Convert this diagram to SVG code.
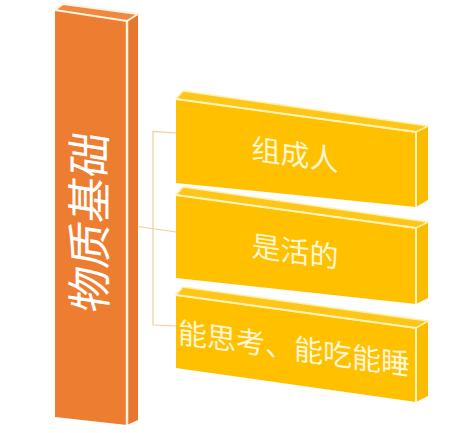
<svg xmlns="http://www.w3.org/2000/svg" width="451" height="433" viewBox="0 0 451 433">
  <style>
    .ofront { fill: #ED7D31; }
    .oside { fill: #E6772C; }
    .otop { fill: #EF8840; stroke: #FFF3E0; stroke-width: 2; stroke-linejoin: round; }
    .yfront { fill: #FFC000; }
    .yside { fill: #F9BC00; }
    .ytop { fill: #FFC61A; stroke: #FFF0A8; stroke-width: 1.5; stroke-linejoin: round; }
    .edge { stroke: #FFF3B8; stroke-width: 2; fill: none; }
    .oedge { stroke: #FFF3E0; stroke-width: 2.5; fill: none; }
    .conn { stroke: #EFCF98; stroke-width: 1.2; fill: none; }
    .lbl { font-family: "Noto Sans CJK SC", "Noto Sans", sans-serif; font-size: 29px; fill: #FFF6D6; text-anchor: middle; }
    .title { font-family: "Noto Sans CJK SC", "Noto Sans", sans-serif; font-size: 45px; fill: #FFFFFF; text-anchor: middle; }
  </style>
  <rect width="451" height="433" fill="#FFFFFF"/>

  <g id="connectors">
    <polyline class="conn" points="176,133 153,131.5 153,325 176,326"/>
    <line class="conn" x1="134" y1="226" x2="176" y2="232"/>
  </g>

  <g id="node-base">
    <polygon class="ofront" points="55,10 127,21 127,425 55,417"/>
    <polygon class="oside" points="127,21 138,14 138,420 127,425"/>
    <polygon class="otop" points="55,10 63,4 138,14 127,21"/>
    <line class="oedge" x1="127" y1="21" x2="127" y2="425"/>
    <text class="title" transform="translate(90,222) skewY(9) rotate(-90)" x="0" y="16">物质基础</text>
  </g>

  <g id="node-1">
    <polygon class="yfront" points="176,99 416,132 416,207 176,183"/>
    <polygon class="yside" points="416,132 428,126 428,200 416,207"/>
    <polygon class="ytop" points="176,99 183,91 428,126 416,132"/>
    <line class="edge" x1="176" y1="99" x2="416" y2="132"/>
    <line class="edge" x1="416" y1="132" x2="416" y2="207"/>
    <text class="lbl" transform="translate(295,154) skewY(8)" x="0" y="11">组成人</text>
  </g>

  <g id="node-2">
    <polygon class="yfront" points="176,195 416,228 416,304 176,278"/>
    <polygon class="yside" points="416,228 428,222 428,298 416,304"/>
    <polygon class="ytop" points="176,195 183,187 428,222 416,228"/>
    <line class="edge" x1="176" y1="195" x2="416" y2="228"/>
    <line class="edge" x1="416" y1="228" x2="416" y2="304"/>
    <text class="lbl" transform="translate(295,251) skewY(8)" x="0" y="11">是活的</text>
  </g>

  <g id="node-3">
    <polygon class="yfront" points="176,295 416,328 416,402 176,368"/>
    <polygon class="yside" points="416,328 428,321 428,396 416,402"/>
    <polygon class="ytop" points="176,295 183,287 428,321 416,328"/>
    <line class="edge" x1="176" y1="295" x2="416" y2="328"/>
    <line class="edge" x1="416" y1="328" x2="416" y2="402"/>
    <text class="lbl" transform="translate(294,348) skewY(8)" x="0" y="11">能思考、能吃能睡</text>
  </g>
</svg>
